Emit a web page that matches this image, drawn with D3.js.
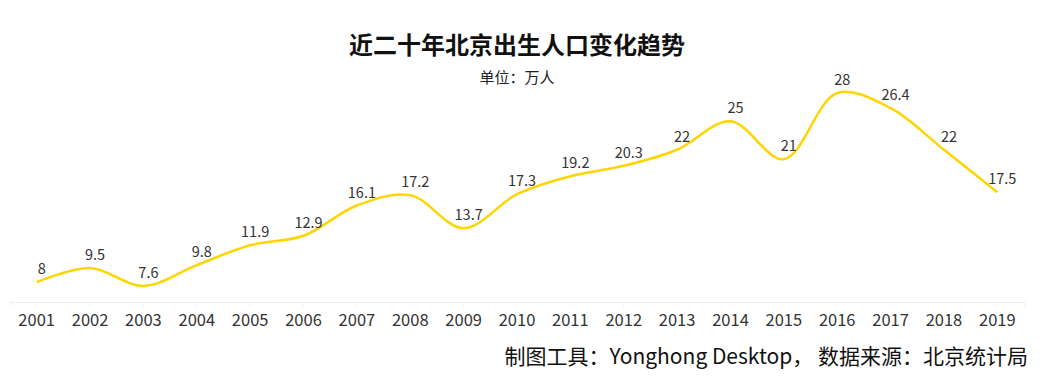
<!DOCTYPE html>
<html>
<head>
<meta charset="utf-8">
<script src="https://cdn.jsdelivr.net/npm/d3@7"></script>
<style>
  body { margin: 0; background: #fff; }
  text { font-family: "Noto Sans CJK SC", "Open Sans", sans-serif; }
</style>
</head>
<body>
<svg width="1052" height="386"></svg>
<script>
var years = ["2001", "2002", "2003", "2004", "2005", "2006", "2007", "2008", "2009", "2010",
             "2011", "2012", "2013", "2014", "2015", "2016", "2017", "2018", "2019"];
var births = [8, 9.5, 7.6, 9.8, 11.9, 12.9, 16.1, 17.2, 13.7, 17.3,
              19.2, 20.3, 22, 25, 21, 28, 26.4, 22, 17.5];

var svg = d3.select("svg"),
    margin = { left: 10, right: 28, top: 93, bottom: 84 },
    width = +svg.attr("width"),
    height = +svg.attr("height");

var x = d3.scaleBand().domain(years).range([margin.left, width - margin.right]);
var y = d3.scaleLinear().domain([5.9, 28]).range([height - margin.bottom, margin.top]);

var cx = function (d, i) { return x(years[i]) + x.bandwidth() / 2; };

// title
svg.append("text").attr("x", 517).attr("y", 54).attr("text-anchor", "middle")
  .style("font-size", "24px").style("font-weight", "bold").attr("fill", "#111")
  .text("近二十年北京出生人口变化趋势");
svg.append("text").attr("x", 517).attr("y", 83).attr("text-anchor", "middle")
  .style("font-size", "15px").attr("fill", "#222")
  .text("单位：万人");

// x axis
var axis = svg.append("g").attr("transform", "translate(0," + (height - margin.bottom) + ")")
  .call(d3.axisBottom(x).tickSize(4).tickPadding(8));
axis.select(".domain").attr("stroke", "#eeeeee");
axis.selectAll(".tick line").attr("stroke", "#eeeeee");
axis.selectAll(".tick text").attr("fill", "#333")
  .style("font-family", '"Noto Sans CJK SC", "Open Sans", sans-serif')
  .style("font-size", "16.5px");

// line
var line = d3.line()
  .x(cx)
  .y(function (d) { return y(d); })
  .curve(d3.curveCatmullRom);

svg.append("path").datum(births)
  .attr("d", line)
  .attr("fill", "none")
  .attr("stroke", "#ffd500")
  .attr("stroke-width", 2.5);

// value labels
svg.append("g").selectAll("text").data(births).enter().append("text")
  .attr("x", function (d, i) { return cx(d, i) + 5; })
  .attr("y", function (d) { return y(d) - 8; })
  .attr("text-anchor", "middle")
  .style("font-size", "14.5px")
  .attr("fill", "#333")
  .text(function (d) { return d; });

// footer
svg.append("text").attr("x", 1028).attr("y", 364).attr("text-anchor", "end")
  .style("font-size", "21px").attr("fill", "#111")
  .text("制图工具：Yonghong Desktop， 数据来源：北京统计局");
</script>
</body>
</html>
